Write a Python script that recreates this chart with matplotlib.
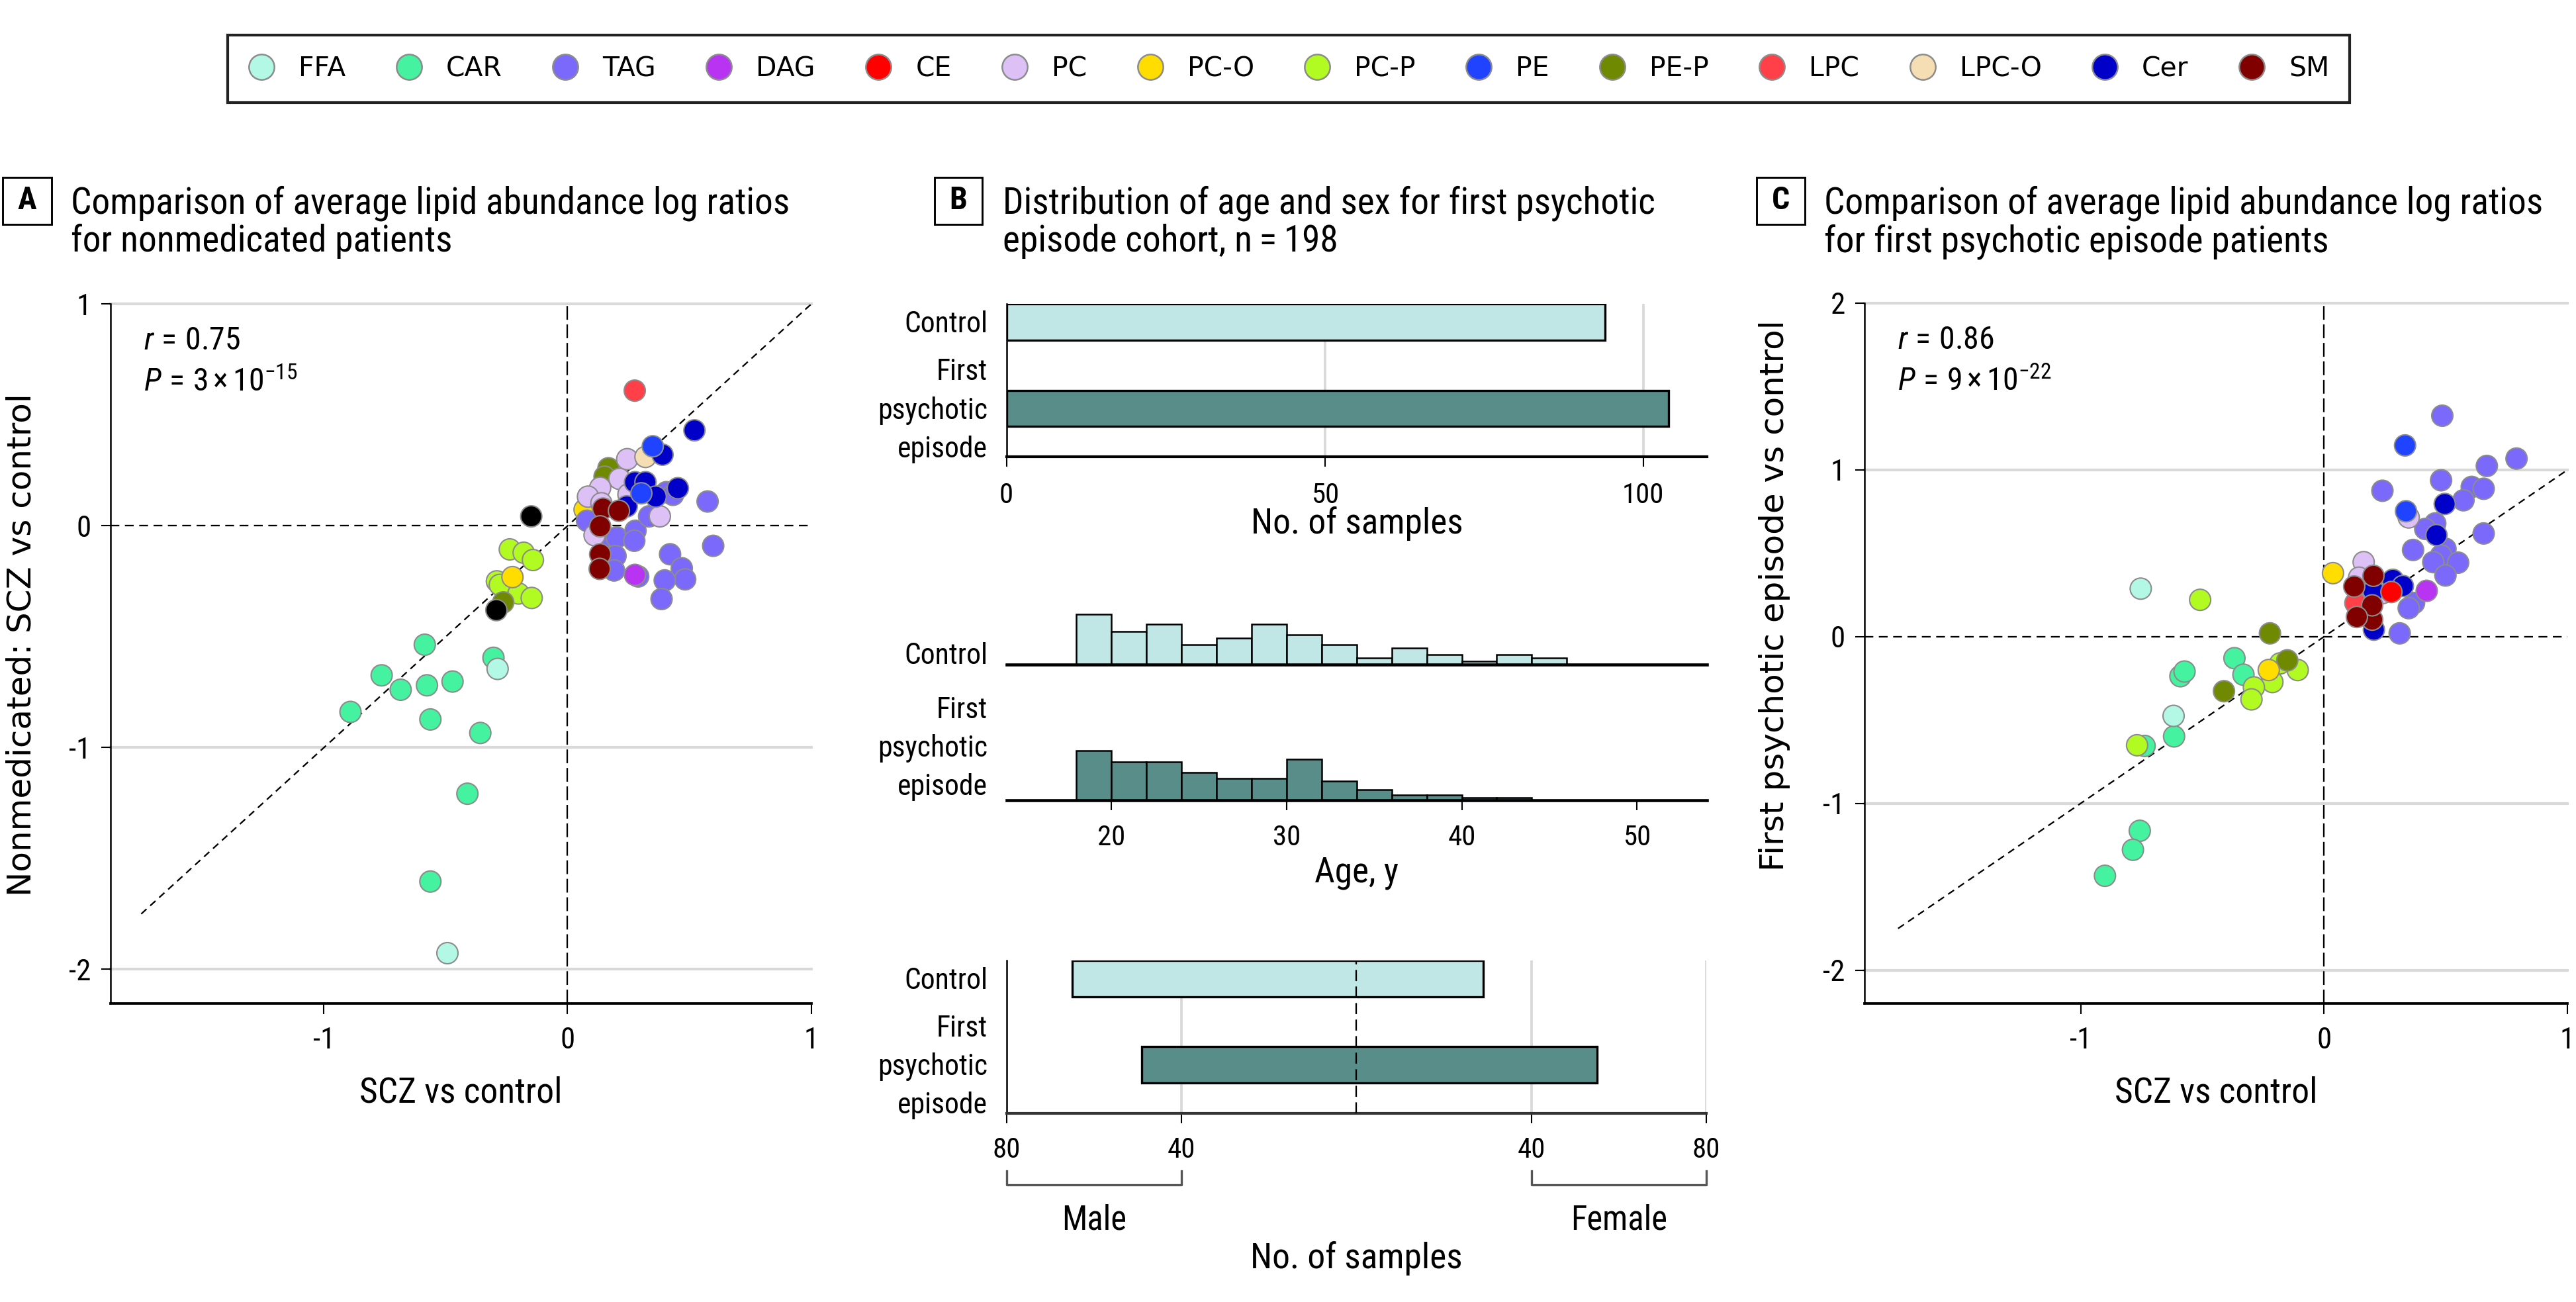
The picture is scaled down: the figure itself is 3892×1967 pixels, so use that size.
import matplotlib
matplotlib.use('Agg')
import matplotlib.pyplot as plt
from matplotlib import font_manager as fm
from matplotlib.lines import Line2D
from matplotlib.patches import Rectangle

# ---------------- data ----------------
CLASS_NAMES = ['FFA', 'CAR', 'TAG', 'DAG', 'CE', 'PC', 'PC-O', 'PC-P', 'PE', 'PE-P', 'LPC', 'LPC-O', 'Cer', 'SM']
CLASS_COLORS = ['#b3f8e5', '#45f2a0', '#7b69fb', '#b933f2', '#ff0000', '#ddc1f6', '#ffdd00',
                '#b2fb22', '#1f43ff', '#6f8a00', '#ff4049', '#f6deb4', '#0000c9', '#800000']
OTHER = 'Other'
OTHER_COLOR = '#000000'

# Panel A: nonmedicated vs SCZ
A_CLASS = (['PC-O'] + ['TAG'] * 18 + ['PE-P'] * 2 + ['PC'] * 8 + ['PC-P'] * 7 + ['PC-O'] + ['PE-P'] +
           [OTHER] * 2 + ['LPC-O'] + ['Cer'] * 7 + ['PE'] * 2 + ['SM'] * 5 + ['DAG', 'LPC'] +
           ['CAR'] * 11 + ['FFA'] * 2)
A_X = [0.070,
       0.406, 0.433, 0.575, 0.598, 0.080, 0.143, 0.202, 0.279, 0.274, 0.335, 0.197, 0.191, 0.290,
       0.421, 0.469, 0.483, 0.399, 0.386,
       0.168, 0.152,
       0.245, 0.213, 0.134, 0.084, 0.250, 0.139, 0.111, 0.379,
       -0.237, -0.180, -0.142, -0.290, -0.278, -0.201, -0.147,
       -0.226,
       -0.264,
       -0.149, -0.292,
       0.320,
       0.390, 0.521, 0.277, 0.320, 0.362, 0.453, 0.243,
       0.350, 0.303,
       0.146, 0.211, 0.134, 0.134, 0.132,
       0.277, 0.276,
       -0.586, -0.304, -0.763, -0.685, -0.577, -0.472, -0.891, -0.563, -0.358, -0.411, -0.563,
       -0.287, -0.493]
A_Y = [0.073,
       0.152, 0.140, 0.110, -0.090, 0.023, -0.057, -0.052, -0.022, -0.067, 0.043, -0.136, -0.201, -0.228,
       -0.128, -0.191, -0.241, -0.246, -0.330,
       0.260, 0.222,
       0.301, 0.212, 0.172, 0.132, 0.142, 0.102, -0.042, 0.043,
       -0.106, -0.121, -0.154, -0.250, -0.266, -0.305, -0.325,
       -0.231,
       -0.345,
       0.043, -0.380,
       0.311,
       0.321, 0.431, 0.197, 0.197, 0.132, 0.170, 0.088,
       0.359, 0.147,
       0.078, 0.068, -0.002, -0.128, -0.194,
       -0.221, 0.610,
       -0.536, -0.595, -0.674, -0.739, -0.719, -0.702, -0.839, -0.873, -0.934, -1.208, -1.604,
       -0.645, -1.927]
A_R = '0.75'
A_P = ('3', '-15')

# Panel C: first psychotic episode vs SCZ
C_CLASS = (['CAR'] * 9 + ['FFA'] * 2 + ['PC-P'] * 7 + ['PE-P'] * 3 + ['PC-O'] * 2 + ['TAG'] * 20 +
           ['PC'] * 4 + ['PE'] * 2 + ['Cer'] * 6 + ['LPC', 'CE'] + ['SM'] * 5 + ['DAG'])
C_X = [-0.368, -0.590, -0.573, -0.331, -0.616, -0.737, -0.757, -0.785, -0.900,
       -0.753, -0.618,
       -0.509, -0.180, -0.108, -0.212, -0.288, -0.298, -0.768,
       -0.222, -0.151, -0.411,
       0.037, -0.227,
       0.486, 0.791, 0.669, 0.481, 0.240, 0.607, 0.656, 0.573, 0.457, 0.656, 0.416, 0.366, 0.499,
       0.481, 0.551, 0.449, 0.499, 0.370, 0.348, 0.311,
       0.348, 0.163, 0.144, 0.240,
       0.333, 0.337,
       0.496, 0.462, 0.283, 0.324, 0.203, 0.205,
       0.129, 0.277,
       0.203, 0.124, 0.198, 0.198, 0.135,
       0.422]
C_Y = [-0.129, -0.237, -0.209, -0.228, -0.598, -0.655, -1.164, -1.278, -1.434,
       0.288, -0.475,
       0.221, -0.160, -0.200, -0.272, -0.304, -0.376, -0.651,
       0.020, -0.142, -0.327,
       0.381, -0.200,
       1.325, 1.068, 1.024, 0.938, 0.875, 0.898, 0.887, 0.818, 0.679, 0.619, 0.646, 0.520, 0.527,
       0.487, 0.444, 0.447, 0.367, 0.202, 0.171, 0.020,
       0.715, 0.447, 0.354, 0.261,
       1.147, 0.752,
       0.796, 0.609, 0.341, 0.304, 0.275, 0.042,
       0.202, 0.268,
       0.365, 0.301, 0.102, 0.188, 0.118,
       0.275]
C_R = '0.86'
C_P = ('9', '-22')

SCATTER_XTICKS = [-1, 0, 1]
A_YTICKS = [-2, -1, 0, 1]
C_YTICKS = [-2, -1, 0, 1, 2]
DIAG = [-1.75, 1.0]

# Panel B
GROUPS = ['Control', 'First\npsychotic\nepisode']
GROUP_COLORS = ['#c0e7e6', '#588d8a']
GROUP_N = [94, 104]
AGE_BIN_START = 18
AGE_BIN_WIDTH = 2
AGE_COUNTS = [[15, 10, 12, 6, 8, 12, 9, 6, 2, 5, 3, 1, 3, 2],
              [18, 14, 14, 10, 8, 8, 15, 7, 4, 2, 2, 1, 1]]
AGE_TICKS = [20, 30, 40, 50]
SEX_MALE = [65, 49]
SEX_FEMALE = [29, 55]
SEX_TICKS = [-80, -40, 40, 80]
SEX_SIDES = ['Male', 'Female']
SEX_RANGES = [(-80, -40), (40, 80)]

# ---------------- style ----------------
avail = {f.name for f in fm.fontManager.ttflist}
COND = next((n for n in ['Liberation Sans Narrow', 'Roboto Condensed', 'Open Sans Condensed']
             if n in avail), 'Liberation Sans')
plt.rcParams['font.family'] = [COND, 'DejaVu Sans']
plt.rcParams['mathtext.fontset'] = 'custom'
plt.rcParams['mathtext.rm'] = COND
plt.rcParams['mathtext.it'] = COND + ':italic'
plt.rcParams['mathtext.bf'] = COND + ':bold'
plt.rcParams['axes.unicode_minus'] = False
plt.rcParams['lines.scale_dashes'] = False

GRID = '#d9d9d9'
EDGE = '#8c8c8c'
TITLE_FS = 13.3
LABEL_FS = 12.8
TICK_FS = 10.8
B_TICK_FS = 10.3
CAT_FS = 10.5
YLAB_FS = 12.0

W, H, DPI = 3892, 1967, 300
fig = plt.figure(figsize=(W / DPI, H / DPI), dpi=DPI)


def add_ax(l, t, r, b):
    return fig.add_axes([l / W, 1 - b / H, (r - l) / W, (b - t) / H])


def ftext(x, y, s, **kw):
    return fig.text(x / W, 1 - y / H, s, **kw)


def lines_text(x, y0, lines, step, **kw):
    for i, ln in enumerate(lines):
        ftext(x, y0 + i * step, ln, va='baseline', **kw)


cmap = dict(zip(CLASS_NAMES, CLASS_COLORS))
cmap[OTHER] = OTHER_COLOR


def scatter_panel(ax, cls, xs, ys, xlim, ylim, yticks, r_txt, p_txt):
    ax.set_xlim(*xlim)
    ax.set_ylim(*ylim)
    for yv in yticks:
        if yv != 0:
            ax.axhline(yv, color=GRID, lw=1.0, zorder=0, clip_on=False)
    ax.axhline(0, color='k', lw=0.55, dashes=(3.2, 2.0), zorder=1)
    ax.axvline(0, color='k', lw=0.55, dashes=(5.0, 1.7), zorder=1)
    ax.plot(DIAG, DIAG, color='k', lw=0.55, dashes=(2.6, 1.8), zorder=1)
    ax.scatter(xs, ys, s=59, c=[cmap[c] for c in cls], edgecolors=EDGE, linewidths=0.5, zorder=3)
    for s in ['top', 'right']:
        ax.spines[s].set_visible(False)
    ax.spines['left'].set_linewidth(0.6)
    ax.spines['bottom'].set_linewidth(0.9)
    ax.set_xticks(SCATTER_XTICKS)
    ax.set_xticklabels([f'{v:g}' for v in SCATTER_XTICKS])
    ax.set_yticks(yticks)
    ax.set_yticklabels([f'{v:g}' for v in yticks])
    ax.tick_params(axis='x', length=3.8, width=0.5, pad=4.6, labelsize=TICK_FS)
    ax.tick_params(axis='y', length=3.4, width=0.5, pad=3.6, labelsize=TICK_FS)
    ax.text(0.047, 0.935, r'$\mathit{r}\,=\,' + r_txt + '$', transform=ax.transAxes,
            fontsize=11.5, va='baseline')
    ax.text(0.047, 0.8755, r'$\mathit{P}\,=\,' + p_txt[0] + r'\times10^{' + p_txt[1] + '}$',
            transform=ax.transAxes, fontsize=11.5, va='baseline')


# ---------------- legend ----------------
handles = [Line2D([], [], ls='', marker='o', markersize=9.2, markerfacecolor=c,
                  markeredgecolor=EDGE, markeredgewidth=0.6) for c in CLASS_COLORS]
leg = fig.legend(handles, CLASS_NAMES, ncol=len(CLASS_NAMES), loc='center',
                 bbox_to_anchor=(1947 / W, 1 - 104 / H), prop={'family': 'DejaVu Sans', 'size': 9.8},
                 handlelength=1.0, handletextpad=0.87, columnspacing=1.84, borderpad=0.75,
                 fancybox=False, framealpha=1, edgecolor='#222222')
leg.get_frame().set_linewidth(1.0)

# ---------------- panel headers ----------------
HEADERS = [('A', (4, 268, 78, 339), 107,
            ['Comparison of average lipid abundance log ratios', 'for nonmedicated patients']),
           ('B', (1412, 268, 1484, 339), 1515,
            ['Distribution of age and sex for first psychotic', 'episode cohort, n\u2009=\u2009198']),
           ('C', (2654, 268, 2727, 339), 2756,
            ['Comparison of average lipid abundance log ratios', 'for first psychotic episode patients'])]
for letter, (l, t, r, b), tx, tlines in HEADERS:
    fig.patches.append(Rectangle((l / W, 1 - b / H), (r - l) / W, (b - t) / H, transform=fig.transFigure,
                                 fill=False, ec='black', lw=0.7))
    ftext((l + r) / 2, (t + b) / 2, letter, ha='center', va='center', fontsize=11.5, fontweight='bold')
    lines_text(tx, 322, tlines, 58, fontsize=TITLE_FS)

# ---------------- panel A ----------------
axA = add_ax(167, 459.5, 1225.5, 1516)
scatter_panel(axA, A_CLASS, A_X, A_Y, (-1.876, 1.0), (-2.154, 1.0), A_YTICKS, A_R, A_P)
ftext(696, 1666, 'SCZ vs control', ha='center', va='baseline', fontsize=LABEL_FS)
ftext(33, 974, 'Nonmedicated: SCZ vs control', rotation=90, ha='center', va='center',
      fontsize=YLAB_FS, family='DejaVu Sans')

# ---------------- panel C ----------------
axC = add_ax(2817, 458, 3879, 1515.6)
scatter_panel(axC, C_CLASS, C_X, C_Y, (-1.888, 1.0), (-2.198, 2.0), C_YTICKS, C_R, C_P)
ftext(3348, 1665, 'SCZ vs control', ha='center', va='baseline', fontsize=LABEL_FS)
ftext(2681, 900, 'First psychotic episode vs control', rotation=90, ha='center', va='center',
      fontsize=YLAB_FS, family='DejaVu Sans')

# ---------------- panel B ----------------
ypos = list(range(len(GROUPS)))
BAR_H = 0.42
YL = (1.56, -0.211)


def cat_labels(yfirst_ctrl, yfirst_fep):
    lines_text(1492, yfirst_ctrl, GROUPS[0].split('\n'), 58, ha='right', fontsize=CAT_FS)
    lines_text(1492, yfirst_fep, GROUPS[1].split('\n'), 58, ha='right', fontsize=CAT_FS)


# B1: number of samples
ax = add_ax(1520.6, 459, 2579, 690)
ax.barh(ypos, GROUP_N, height=BAR_H, color=GROUP_COLORS, edgecolor='black', linewidth=0.8, zorder=3)
ax.set_xlim(0, 110)
ax.set_ylim(*YL)
ax.set_xticks([0, 50, 100])
ax.xaxis.grid(True, color=GRID, lw=0.9)
ax.set_axisbelow(True)
ax.set_yticks([])
for s in ['top', 'right']:
    ax.spines[s].set_visible(False)
ax.spines['left'].set_linewidth(0.6)
ax.spines['bottom'].set_linewidth(1.0)
ax.tick_params(axis='x', length=3.7, width=0.5, pad=5.5, labelsize=B_TICK_FS)
cat_labels(502, 574.5)
ftext(2050, 806, 'No. of samples', ha='center', va='baseline', fontsize=LABEL_FS)

# B2: age histograms
bases = [1003.7, 1209.3]
for gi, counts in enumerate(AGE_COUNTS):
    ax = add_ax(1520.6, bases[gi] - 100, 2579, bases[gi])
    lefts = [AGE_BIN_START + k * AGE_BIN_WIDTH for k in range(len(counts))]
    ax.bar(lefts, counts, width=AGE_BIN_WIDTH, align='edge', color=GROUP_COLORS[gi],
           edgecolor='black', linewidth=0.6, zorder=3)
    ax.set_xlim(14, 54)
    ax.set_ylim(0, max(counts) / 0.753)
    ax.set_yticks([])
    for s in ['top', 'right', 'left']:
        ax.spines[s].set_visible(False)
    ax.spines['bottom'].set_linewidth(1.1)
    ax.spines['bottom'].set_zorder(4)
    ax.patch.set_alpha(0)
    if gi == len(AGE_COUNTS) - 1:
        ax.set_xticks(AGE_TICKS)
        ax.tick_params(axis='x', length=3.7, width=0.5, pad=4.8, labelsize=B_TICK_FS)
    else:
        ax.set_xticks([])
cat_labels(1003, 1085)
ftext(2050, 1333, 'Age, y', ha='center', va='baseline', fontsize=LABEL_FS)

# B3: sex distribution
ax = add_ax(1520.6, 1450.6, 2578, 1682)
ax.barh(ypos, [m + f for m, f in zip(SEX_MALE, SEX_FEMALE)], left=[-m for m in SEX_MALE],
        height=BAR_H, color=GROUP_COLORS, edgecolor='black', linewidth=0.8, zorder=3)
ax.axvline(0, color='k', lw=0.55, dashes=(4.0, 2.0), zorder=4)
ax.set_xlim(-80, 80)
ax.set_ylim(*YL)
ax.set_xticks(SEX_TICKS)
ax.set_xticklabels([f'{abs(v)}' for v in SEX_TICKS])
ax.xaxis.grid(True, color=GRID, lw=0.9)
ax.set_axisbelow(True)
ax.set_yticks([])
for s in ['top', 'right']:
    ax.spines[s].set_visible(False)
ax.spines['left'].set_linewidth(0.6)
ax.spines['bottom'].set_linewidth(1.0)
ax.spines['bottom'].set_color('#333333')
ax.tick_params(axis='x', length=3.6, width=0.5, pad=4.7, labelsize=B_TICK_FS)
tr = ax.get_xaxis_transform()
axh = 1682 - 1450.6
yb0, yb1 = -(1769 - 1682) / axh, -(1790 - 1682) / axh
for (x0, x1), lab in zip(SEX_RANGES, SEX_SIDES):
    ax.plot([x0, x0, x1, x1], [yb0, yb1, yb1, yb0], transform=tr, clip_on=False, color='#555555', lw=0.8)
    ax.text((x0 + x1) / 2, -(1858 - 1682) / axh, lab, transform=tr, ha='center', va='baseline',
            fontsize=LABEL_FS * 0.95)
cat_labels(1493.5, 1566)
ftext(2049, 1915.6, 'No. of samples', ha='center', va='baseline', fontsize=LABEL_FS)

fig.savefig('out.png', dpi=DPI)
